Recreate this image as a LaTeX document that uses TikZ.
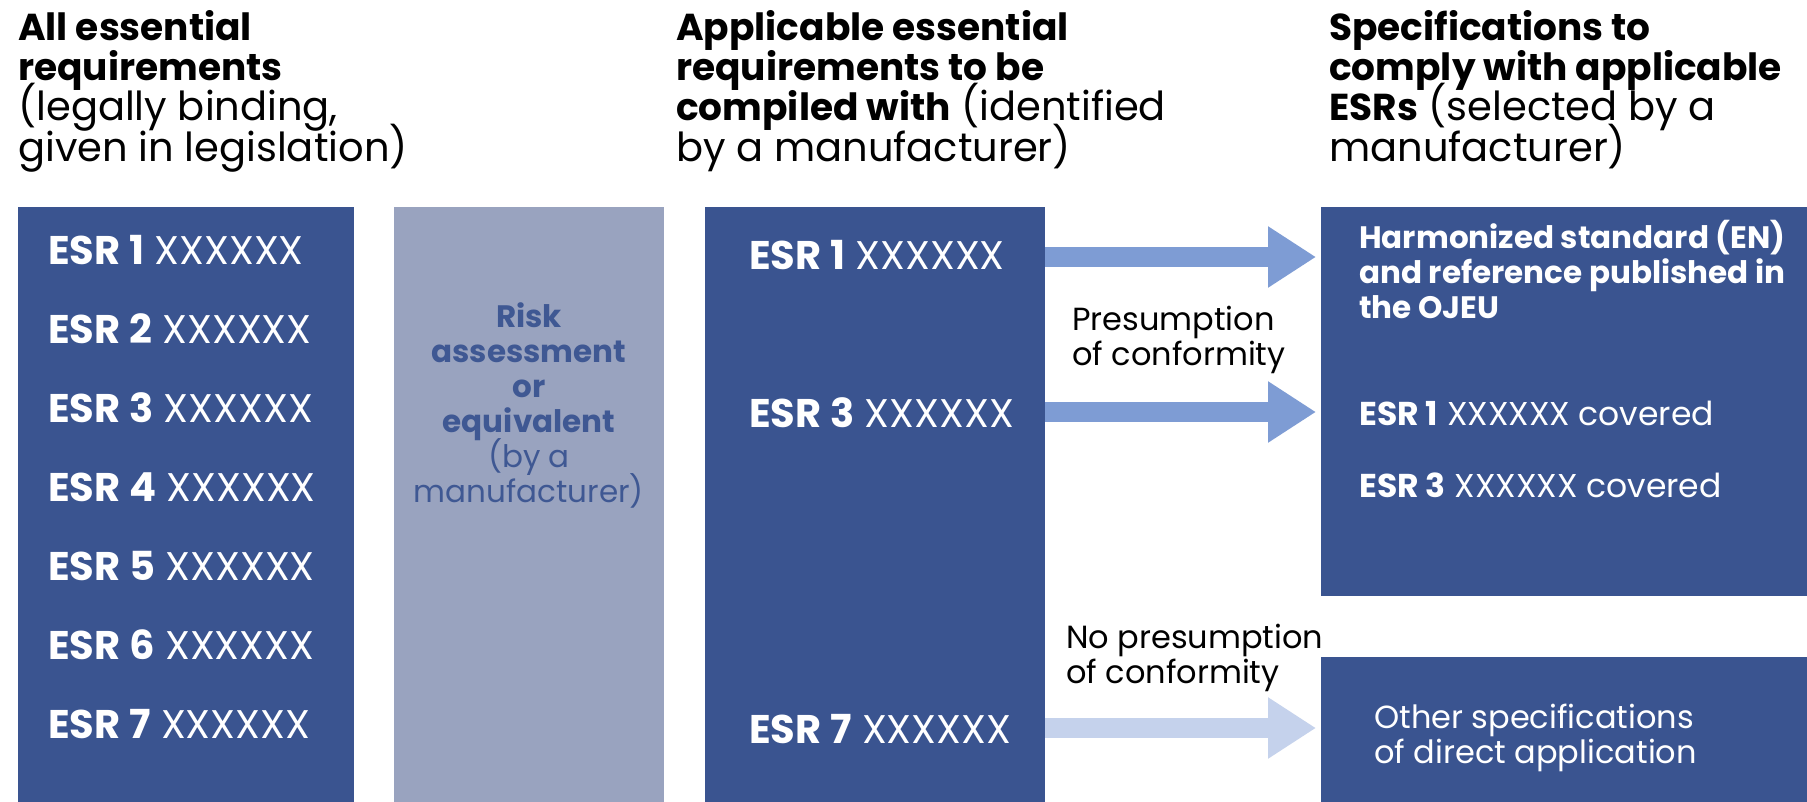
\documentclass[tikz,border=0pt]{standalone}
\usepackage{fontspec}
\setmainfont{Poppins}
\usetikzlibrary{arrows.meta,backgrounds}
\definecolor{dkblue}{HTML}{3A5490}
\definecolor{grayblue}{HTML}{99A3BF}
\definecolor{midblue}{HTML}{7E9CD4}
\definecolor{ltblue}{HTML}{C5D2EC}
\definecolor{graytext}{HTML}{3F5893}
\newcommand\hdbold[1]{{\fontsize{37.5}{40.3}\selectfont\bfseries #1}}
\tikzset{
  box/.style={fill=#1, draw=none, inner sep=0pt, anchor=north west},
  hd/.style={anchor=base west, inner sep=0pt, align=left, font=\fontsize{40}{40.3}\selectfont},
  esr/.style={anchor=base west, inner sep=0pt, text=white, font=\fontsize{40}{40}\selectfont},
  small/.style={anchor=base west, inner sep=0pt, align=left, font=\fontsize{32}{35}\selectfont},
  bar/.style={line width=20pt, draw=#1},
  arr/.style={line width=20pt, draw=#1, -{Triangle[length=48pt,width=58pt]}, shorten >=5pt},
}
\begin{document}
\lineskiplimit=-100pt
\lineskip=0pt
\begin{tikzpicture}[x=1pt,y=-1pt]
\useasboundingbox (0,0) rectangle (1807,801);
\fill[white] (0,0) rectangle (1807,801);
% headings
\node[hd] (h1) at (18,161) {\hdbold{All essential}\\\hdbold{requirements}\\(legally binding,\\given in legislation)};
\node[hd] (h2) at (676,161) {\hdbold{Applicable essential}\\\hdbold{requirements to be}\\\hdbold{compiled with} (identified\\by a manufacturer)};
\node[hd] (h3) at (1329,161) {\hdbold{Specifications to}\\\hdbold{comply with applicable}\\\hdbold{ESRs} (selected by a\\manufacturer)};
% boxes
\node[box=dkblue, minimum width=336pt, minimum height=600pt] (L) at (18,207) {};
\node[box=dkblue, minimum width=340pt, minimum height=600pt] (M) at (705,207) {};
\node[box=dkblue, minimum width=490pt, minimum height=389pt] (R1) at (1321,207) {};
\node[box=dkblue, minimum width=490pt, minimum height=150pt] (R2) at (1321,657) {};
% rows
\coordinate (y1) at (0,257);
\coordinate (y3) at (0,412);
\coordinate (y7) at (0,728);
\begin{scope}[on background layer]
\draw[bar=midblue] (L.east |- y1) -- (M.west |- y1);
\draw[bar=midblue] (L.east |- y3) -- (M.west |- y3);
\draw[bar=ltblue] (L.east |- y7) -- (M.west |- y7);
\end{scope}
\node[box=grayblue, minimum width=270pt, minimum height=600pt] (G) at (394,207) {};
\node[anchor=base, inner sep=0pt, align=center, text=graytext, font=\fontsize{31}{35}\selectfont] (gt) at (529,502)
  {\bfseries Risk\\\bfseries assessment\\\bfseries or\\\bfseries equivalent\\(by a\\manufacturer)};
% ESR rows left
\foreach \i/\y in {1/264,2/343,3/422,4/501,5/580,6/659,7/738}
  \node[esr] (l\i) at (48,\y) {\textbf{ESR \i} XXXXXX};
\node[esr] (m1) at (749,269) {\textbf{ESR 1} XXXXXX};
\node[esr] (m3) at (749,427) {\textbf{ESR 3} XXXXXX};
\node[esr] (m7) at (749,743) {\textbf{ESR 7} XXXXXX};
% arrows
\draw[arr=midblue] (M.east |- y1) -- (R1.west |- y1);
\draw[arr=midblue] (M.east |- y3) -- (R1.west |- y3);
\draw[arr=ltblue] (M.east |- y7) -- (R2.west |- y7);
% labels
\node[small] (p1) at (1072,365) {Presumption\\of conformity};
\node[small] (p2) at (1066,683) {No presumption\\of conformity};
\node[small, text=white, font=\fontsize{31}{35}\selectfont] (r1t) at (1359,318) {\bfseries Harmonized standard (EN)\\\bfseries and reference published in\\\bfseries the OJEU};
\node[small, text=white, font=\fontsize{33}{35}\selectfont] (r1a) at (1359,425) {\textbf{ESR 1} XXXXXX covered};
\node[small, text=white, font=\fontsize{33}{35}\selectfont] (r1b) at (1359,497) {\textbf{ESR 3} XXXXXX covered};
\node[small, text=white] (r2t) at (1374,763) {Other specifications\\of direct application};
\end{tikzpicture}
\end{document}
